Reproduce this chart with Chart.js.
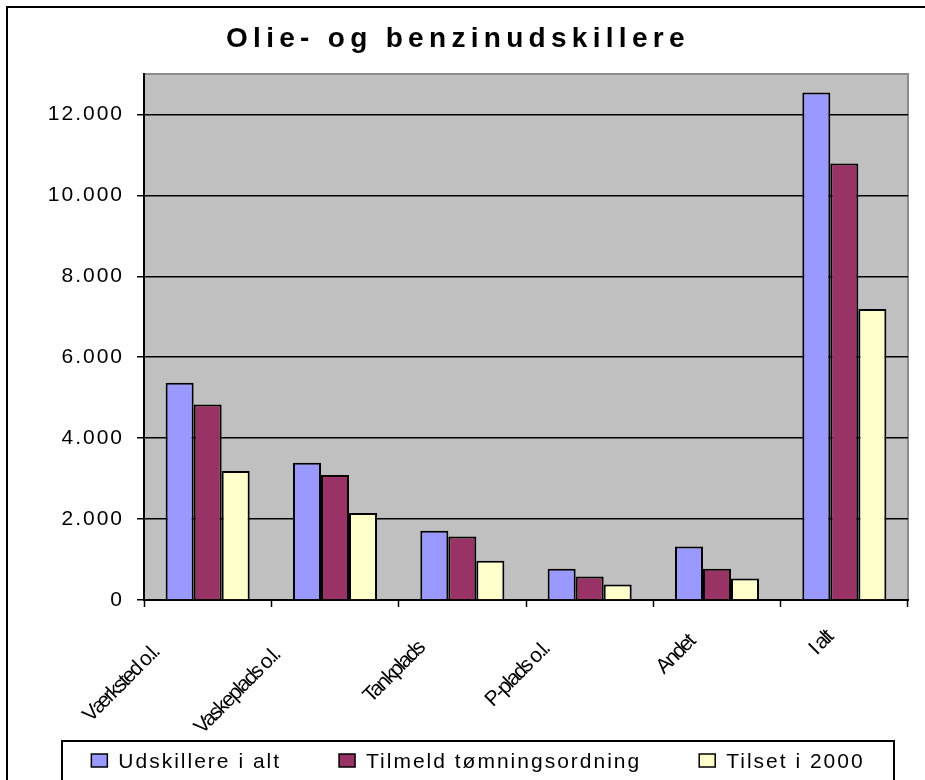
<!DOCTYPE html>
<html>
<head>
<meta charset="utf-8">
<script src="https://cdn.jsdelivr.net/npm/chart.js@4"></script>
<style>
  html, body { margin: 0; padding: 0; background: #fff; }
  canvas { display: block; }
</style>
</head>
<body>
<canvas id="chart" width="925" height="780"></canvas>
<script>
const chartTitle = 'Olie- og benzinudskillere';

const categories = ['Værksted o.l.', 'Vaskeplads o.l.', 'Tankplads', 'P-plads o.l.', 'Andet', 'I alt'];
const seriesNames = ['Udskillere i alt', 'Tilmeld tømningsordning', 'Tilset i 2000'];

const udskillere = [5370, 3390, 1710, 770, 1320, 12540];
const tilmeldt = [4830, 3090, 1570, 580, 770, 10790];
const tilset = [3190, 2150, 970, 380, 530, 7190];

const yTickValues = [0, 2000, 4000, 6000, 8000, 10000, 12000];
const yTickLabels = ['0', '2.000', '4.000', '6.000', '8.000', '10.000', '12.000'];

const FONT = '"Liberation Sans", Arial, sans-serif';

// plot background, frame, title, legend and rotated x labels
const excelLook = {
    id: 'excelLook',
    beforeDraw(chart) {
        const { ctx, chartArea: a } = chart;
        ctx.save();
        ctx.fillStyle = '#ffffff';
        ctx.fillRect(0, 0, chart.width, chart.height);
        ctx.fillStyle = '#c0c0c0';
        ctx.fillRect(a.left, a.top, a.right - a.left, a.bottom - a.top);
        ctx.strokeStyle = '#8c8c8c';
        ctx.lineWidth = 2;
        ctx.beginPath();
        ctx.moveTo(a.left, a.top);
        ctx.lineTo(a.right, a.top);
        ctx.lineTo(a.right, a.bottom);
        ctx.stroke();
        ctx.restore();
        // y tick labels are spaced out a bit
        ctx.letterSpacing = '2px';
    },
    afterDraw(chart) {
        const ctx = chart.ctx;
        const xs = chart.scales.x;

        ctx.save();
        ctx.letterSpacing = '0px';

        // outer frame (cut off at right and bottom)
        ctx.strokeStyle = '#000';
        ctx.lineWidth = 2;
        ctx.strokeRect(7, 7, chart.width + 20, chart.height + 20);

        // title
        ctx.fillStyle = '#000';
        ctx.font = 'bold 28px ' + FONT;
        ctx.letterSpacing = '5.3px';
        ctx.textAlign = 'left';
        ctx.textBaseline = 'alphabetic';
        ctx.fillText(chartTitle, 226, 47);

        // x labels, squeezed and rotated
        ctx.font = '21px ' + FONT;
        ctx.letterSpacing = '-2px';
        ctx.textAlign = 'right';
        ctx.textBaseline = 'middle';
        categories.forEach((lab, i) => {
            const cx = xs.getPixelForTick(i);
            const L = ctx.measureText(lab).width;
            ctx.save();
            ctx.translate(cx - 0.5 * L - 3, xs.top + 30 + 0.2 * L);
            ctx.rotate(-Math.PI / 4);
            ctx.fillText(lab, 0, 0);
            ctx.restore();
        });

        // legend box
        const boxL = 62, boxR = 894, boxT = 741;
        ctx.lineWidth = 2;
        ctx.strokeRect(boxL, boxT, boxR - boxL, 80);

        ctx.font = '21px ' + FONT;
        ctx.letterSpacing = '2px';
        ctx.textAlign = 'left';
        ctx.textBaseline = 'alphabetic';
        const sw = 16, gapIn = 11, gapOut = 58;
        const items = chart.data.datasets.map(ds => ({
            label: ds.label,
            color: ds.backgroundColor,
            w: ctx.measureText(ds.label).width
        }));
        const total = items.reduce((s, it) => s + sw + gapIn + it.w, 0) + gapOut * (items.length - 1);
        let x = (boxL + boxR) / 2 - total / 2;
        items.forEach(it => {
            ctx.fillStyle = it.color;
            ctx.fillRect(x, 754, sw, 13);
            ctx.strokeStyle = '#000';
            ctx.lineWidth = 1.5;
            ctx.strokeRect(x, 754, sw, 13);
            ctx.fillStyle = '#000';
            ctx.fillText(it.label, x + sw + gapIn, 768);
            x += sw + gapIn + it.w + gapOut;
        });
        ctx.restore();
    }
};

const ctx = document.getElementById('chart').getContext('2d');

new Chart(ctx, {
    type: 'bar',
    data: {
        labels: categories,
        datasets: [
            { label: seriesNames[0], data: udskillere, backgroundColor: '#9999ff' },
            { label: seriesNames[1], data: tilmeldt, backgroundColor: '#993366' },
            { label: seriesNames[2], data: tilset, backgroundColor: '#ffffcc' }
        ].map(ds => ({
            ...ds,
            borderColor: '#000',
            borderWidth: 2,
            barPercentage: 1,
            categoryPercentage: 0.66
        }))
    },
    options: {
        responsive: false,
        animation: false,
        layout: { padding: { top: 74, right: 17, bottom: 0, left: 0 } },
        plugins: {
            legend: { display: false },
            title: { display: false },
            tooltip: { enabled: false }
        },
        scales: {
            x: {
                grid: {
                    offset: true,
                    drawOnChartArea: false,
                    drawTicks: true,
                    tickLength: 7,
                    tickColor: '#000',
                    tickWidth: 1.5
                },
                border: { display: true, color: '#000', width: 2 },
                ticks: { display: false },
                afterFit: (scale) => { scale.height = 180; }
            },
            y: {
                min: 0,
                max: 13000,
                afterBuildTicks: (axis) => {
                    axis.ticks = yTickValues.map(v => ({ value: v }));
                },
                grid: {
                    color: '#000',
                    lineWidth: 1.5,
                    drawTicks: true,
                    tickLength: 7,
                    tickColor: '#000'
                },
                border: { display: true, color: '#000', width: 2 },
                ticks: {
                    color: '#000',
                    padding: 13,
                    font: { family: FONT, size: 21 },
                    callback: (v) => {
                        const i = yTickValues.indexOf(v);
                        return i >= 0 ? yTickLabels[i] : '';
                    }
                },
                afterFit: (scale) => { scale.width = 144; }
            }
        }
    },
    plugins: [excelLook]
});
</script>
</body>
</html>
